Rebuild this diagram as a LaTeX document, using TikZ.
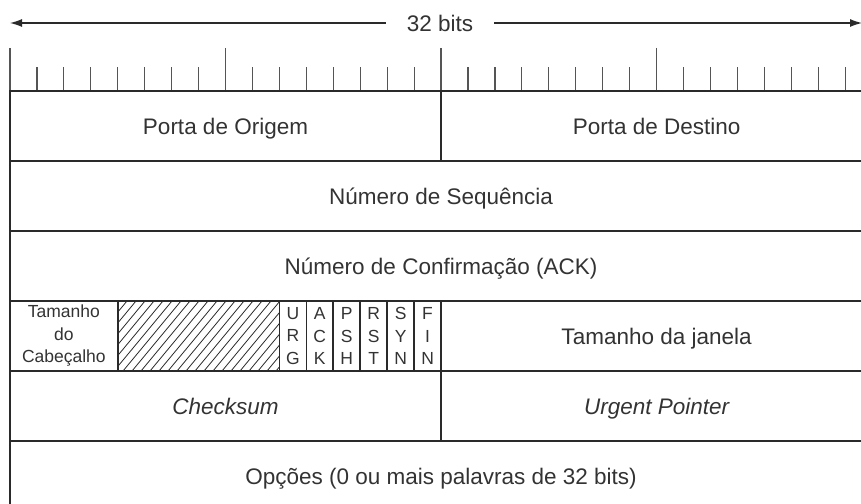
\documentclass[tikz,border=0pt]{standalone}
\usepackage{fontspec}
\setmainfont{Liberation Sans}
\usetikzlibrary{arrows.meta}
\definecolor{linec}{HTML}{2A2A2A}
\definecolor{tickc}{HTML}{555555}
\definecolor{txt}{HTML}{333333}
\begin{document}
\begin{tikzpicture}[x=1pt,y=-1pt,
  field/.style={draw=linec, line width=1.6pt, minimum height=70pt, inner sep=0pt,
    text=txt, font=\fontsize{22.5}{27}\selectfont},
  onefield/.style={field, text height=17pt, text depth=0pt},
  smallfield/.style={field, font=\fontsize{17.5}{22.5}\selectfont, align=center},
  flagfield/.style={field, minimum width=26.94pt, font=\fontsize{17.5}{22.5}\selectfont, align=center},
  tickmark/.style={draw=tickc, line width=1.2pt},
  widtharrow/.style={draw=linec, line width=1.2pt, {Latex[length=12pt,width=8pt]}-{Latex[length=12pt,width=8pt]}},
  lbl/.style={text=txt, font=\fontsize{22.5}{27}\selectfont, fill=white, inner xsep=21pt, inner ysep=2pt}]
\useasboundingbox (0,0) rectangle (861,503);
\clip (0,0) rectangle (861,503);

% width arrow
\coordinate (aL) at (10,23);
\coordinate (aR) at (862,23);
\draw[widtharrow] (aL) -- (aR);
\node[lbl] (bits) at (440,23) {32 bits};

% ruler ticks
\foreach \i in {0,...,32}{
  \pgfmathsetmacro{\xx}{10+\i*26.94}
  \pgfmathtruncatemacro{\isbig}{mod(\i,8)==0 ? 1 : 0}
  \ifnum\isbig=1
    \draw[tickmark] (\xx,48) -- (\xx,91);
  \else
    \draw[tickmark] (\xx,67) -- (\xx,91);
  \fi
}

% row 1
\node[onefield, minimum width=431.04pt] (src) at (225.52,126) {Porta de Origem};
\node[onefield, minimum width=431.04pt] (dst) at (656.56,126) {Porta de Destino};
% row 2
\node[onefield, minimum width=862.08pt] (seq) at (441.04,196) {Número de Sequência};
% row 3
\node[onefield, minimum width=862.08pt] (ackn) at (441.04,266) {Número de Confirmação (ACK)};
% row 4
\node[smallfield, minimum width=107.76pt] (hlen) at (63.88,336) {Tamanho\\do\\Cabeçalho};
\node[field, minimum width=161.64pt] (rsv) at (198.58,336) {};
\begin{scope}
  \clip (117.76,301) rectangle (279.4,371);
  \foreach \k in {0,...,28}{
    \draw[linec, line width=0.8pt] ({60+\k*9},371) -- ++(58,-70);
  }
\end{scope}
\draw[linec, line width=1.6pt] (117.76,301) rectangle (279.4,371);
\node[flagfield] (furg) at (292.87,336) {U\\R\\G};
\node[flagfield] (fack) at (319.81,336) {A\\C\\K};
\node[flagfield] (fpsh) at (346.75,336) {P\\S\\H};
\node[flagfield] (frst) at (373.69,336) {R\\S\\T};
\node[flagfield] (fsyn) at (400.63,336) {S\\Y\\N};
\node[flagfield] (ffin) at (427.57,336) {F\\I\\N};
\node[onefield, minimum width=431.04pt] (win) at (656.56,336) {Tamanho da janela};
% row 5
\node[onefield, minimum width=431.04pt] (chk) at (225.52,406) {\itshape Checksum};
\node[onefield, minimum width=431.04pt] (urgp) at (656.56,406) {\itshape Urgent Pointer};
% row 6
\node[onefield, minimum width=862.08pt] (opt) at (441.04,476) {Opções (0 ou mais palavras de 32 bits)};
\end{tikzpicture}
\end{document}
